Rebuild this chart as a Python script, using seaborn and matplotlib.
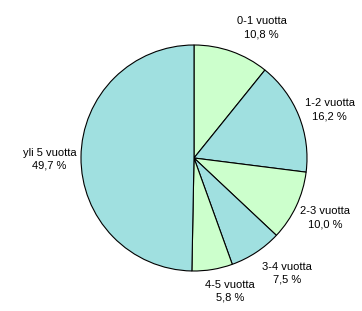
import matplotlib
matplotlib.use("Agg")
import matplotlib.pyplot as plt
import seaborn as sns

categories = ["0-1 vuotta", "1-2 vuotta", "2-3 vuotta", "3-4 vuotta", "4-5 vuotta", "yli 5 vuotta"]
values = [10.8, 16.2, 10.0, 7.5, 5.8, 49.7]
value_labels = ["10,8 %", "16,2 %", "10,0 %", "7,5 %", "5,8 %", "49,7 %"]
# label placement (in pie-radius units), as in the original layout
label_pos = [(0.60, 1.15), (1.20, 0.43), (1.16, -0.53), (0.82, -1.02), (0.32, -1.18), (-1.28, -0.01)]

sns.set_style("white")
plt.rcParams['font.family'] = ['Liberation Sans', 'DejaVu Sans']

colors = ["#CCFFCC", "#A0E0E0"] * 3

fig = plt.figure(figsize=(3.62, 3.11), dpi=100)
cx, cy, r = 194, 158, 113
W, H = 362, 311
ax = fig.add_axes([(cx - r) / W, (H - cy - r) / H, 2 * r / W, 2 * r / H])

labels = [f"{c}\n{v}" for c, v in zip(categories, value_labels)]
wedges, texts = ax.pie(values, colors=colors, startangle=90, counterclock=False,
                       labels=labels, labeldistance=1.27,
                       wedgeprops=dict(edgecolor="black", linewidth=0.8),
                       textprops=dict(fontsize=8, color="black", linespacing=1.4))
for w in wedges:
    w.set_clip_on(False)
for t, p in zip(texts, label_pos):
    t.set_position(p)
    t.set_ha("center")
    t.set_va("center")
    t.set_multialignment("center")
ax.set_xlim(-1, 1)
ax.set_ylim(-1, 1)
ax.set_aspect("auto")
ax.axis("off")
fig.savefig("out.png", dpi=100, facecolor="white")
